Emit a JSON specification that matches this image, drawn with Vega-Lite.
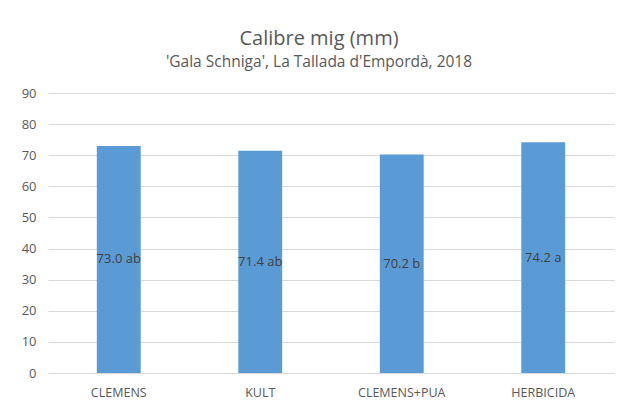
{
  "$schema": "https://vega.github.io/schema/vega-lite/v6.json",
  "autosize": "none",
  "width": 566,
  "height": 280,
  "padding": {"left": 48, "top": 93, "right": 16, "bottom": 32},
  "background": "white",
  "title": {
    "text": "Calibre mig (mm)",
    "subtitle": "'Gala Schniga', La Tallada d'Empordà, 2018",
    "anchor": "middle",
    "dx": -12,
    "offset": 17,
    "font": "Open Sans",
    "fontSize": 20,
    "fontWeight": "normal",
    "color": "#595959",
    "subtitleFont": "Open Sans",
    "subtitleFontSize": 15.5,
    "subtitleColor": "#595959",
    "subtitlePadding": 6
  },
  "data": {
    "values": [
      {"treatment": "CLEMENS", "value": 73.0, "label": "73.0 ab"},
      {"treatment": "KULT", "value": 71.4, "label": "71.4 ab"},
      {"treatment": "CLEMENS+PUA", "value": 70.2, "label": "70.2 b"},
      {"treatment": "HERBICIDA", "value": 74.2, "label": "74.2 a"}
    ]
  },
  "encoding": {
    "x": {
      "field": "treatment",
      "type": "nominal",
      "sort": null,
      "scale": {"paddingInner": 0.69, "paddingOuter": 0.345},
      "axis": {
        "title": null,
        "labelAngle": 0,
        "domain": false,
        "ticks": false,
        "labelPadding": 13,
        "labelFont": "Open Sans",
        "labelFontSize": 12.5,
        "labelColor": "#595959"
      }
    }
  },
  "layer": [
    {
      "mark": {"type": "bar", "color": "#5B9BD5"},
      "encoding": {
        "y": {
          "field": "value",
          "type": "quantitative",
          "scale": {"domain": [0, 90], "nice": false},
          "axis": {
            "title": null,
            "values": [0, 10, 20, 30, 40, 50, 60, 70, 80, 90],
            "labelOverlap": false,
            "domain": false,
            "ticks": false,
            "labelPadding": 12,
            "labelFont": "Open Sans",
            "labelFontSize": 13,
            "labelColor": "#595959",
            "gridColor": "#D9D9D9",
            "gridWidth": 1
          }
        }
      }
    },
    {
      "mark": {"type": "text", "font": "Open Sans", "fontSize": 13, "color": "#404040", "baseline": "middle"},
      "transform": [{"calculate": "datum.value / 2", "as": "mid"}],
      "encoding": {
        "y": {
          "field": "mid",
          "type": "quantitative",
          "scale": {"domain": [0, 90], "nice": false},
          "axis": {
            "title": null,
            "values": [0, 10, 20, 30, 40, 50, 60, 70, 80, 90],
            "labelOverlap": false,
            "domain": false,
            "ticks": false,
            "labelPadding": 12,
            "labelFont": "Open Sans",
            "labelFontSize": 13,
            "labelColor": "#595959",
            "gridColor": "#D9D9D9",
            "gridWidth": 1
          }
        },
        "text": {"field": "label"}
      }
    }
  ],
  "config": {"view": {"stroke": null}}
}
